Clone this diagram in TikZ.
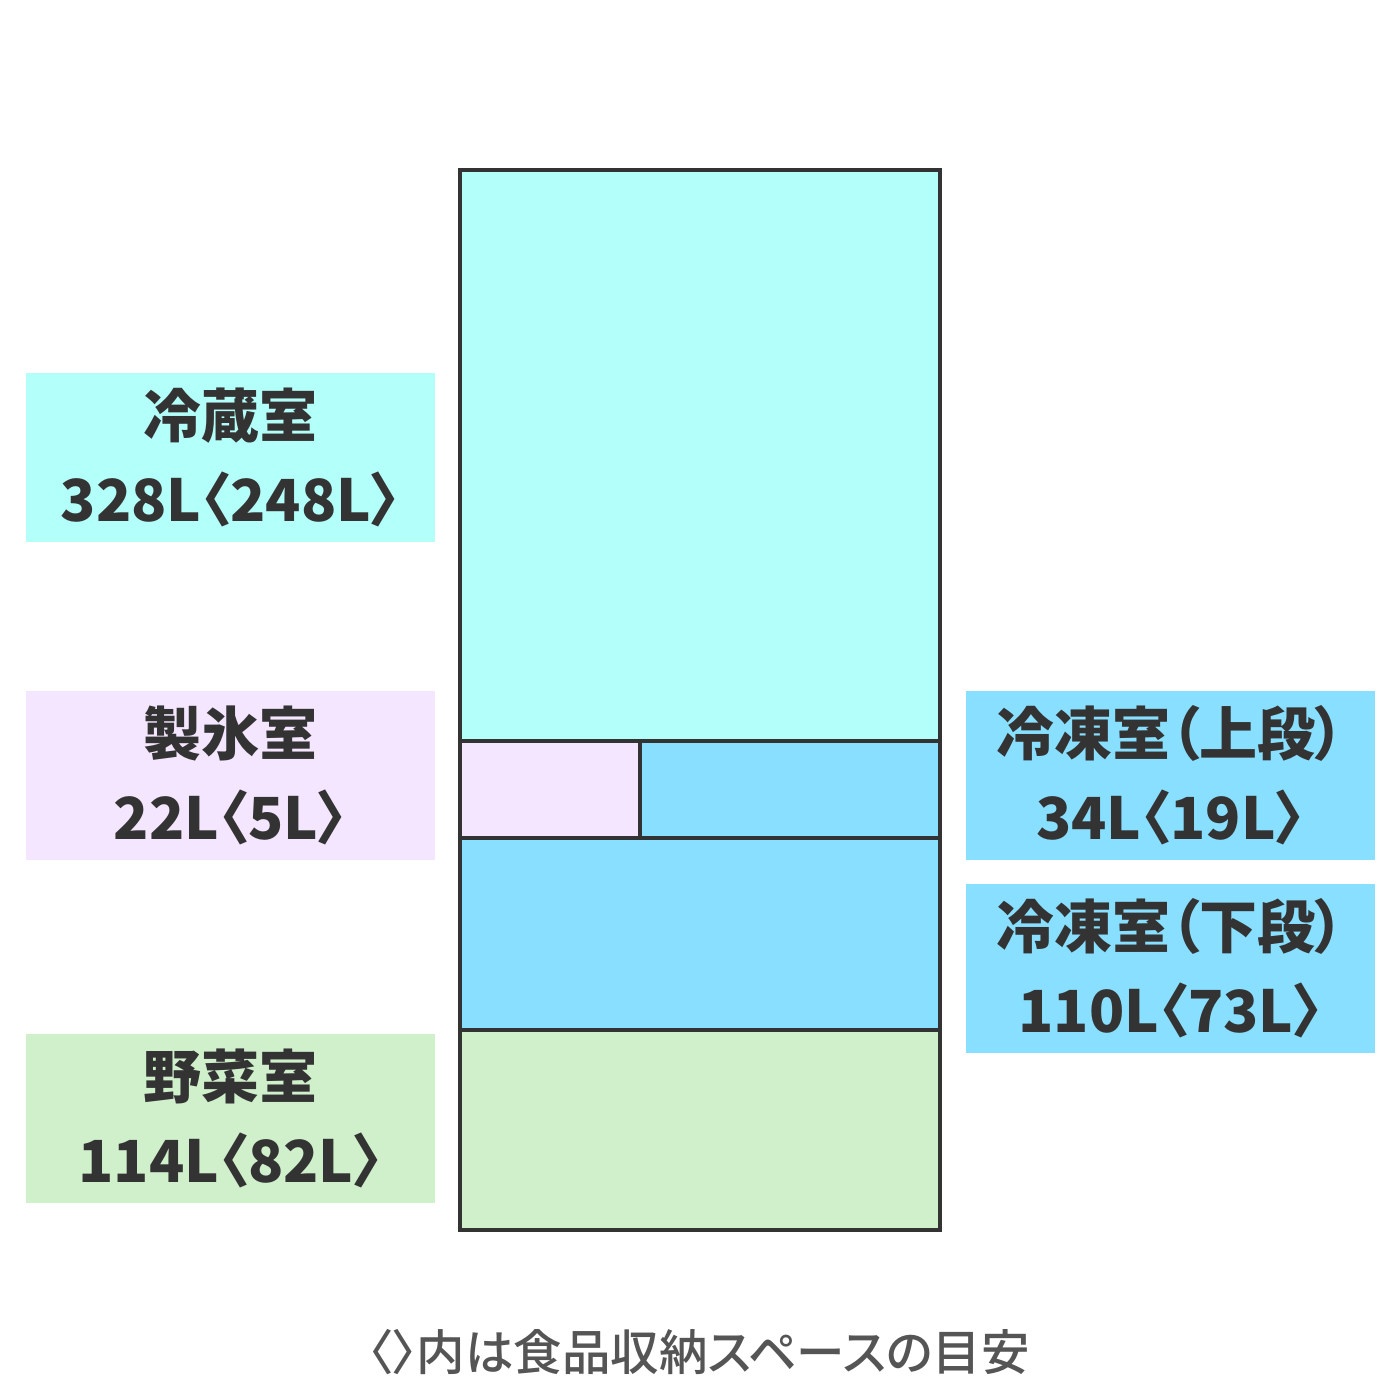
\documentclass[tikz,border=0pt]{standalone}
\usepackage{fontspec}
\setmainfont{Noto Sans CJK JP}[RawFeature=+palt]
\IfFontExistsTF{Noto Sans CJK JP Medium}
  {\newfontfamily\footfont{Noto Sans CJK JP Medium}[RawFeature=+palt]}
  {\newfontfamily\footfont{Noto Sans CJK JP}[RawFeature=+palt]}
\definecolor{txt}{HTML}{333333}
\definecolor{edge}{HTML}{333333}
\definecolor{cyanc}{HTML}{B3FFFA}
\definecolor{pinkc}{HTML}{F5E6FF}
\definecolor{bluec}{HTML}{88DFFF}
\definecolor{greenc}{HTML}{D0F0CC}
\definecolor{foot}{HTML}{555555}
\begin{document}
\begin{tikzpicture}[x=1pt,y=-1pt,
  lab/.style={rectangle, inner sep=0pt, minimum width=409pt, minimum height=169pt,
    align=center, text=txt, font=\fontsize{58}{84}\selectfont\bfseries},
  comp/.style={rectangle, draw=edge, line width=4.5pt, inner sep=0pt, outer sep=0pt, anchor=north west}]
\useasboundingbox (0,0) rectangle (1400,1400);
\fill[white] (0,0) rectangle (1400,1400);
% compartments
\node[comp, fill=cyanc, minimum width=480pt, minimum height=571pt] (reizo) at (460,170) {};
\node[comp, fill=pinkc, minimum width=180pt, minimum height=97pt] (seihyo) at (460,741) {};
\node[comp, fill=bluec, minimum width=300pt, minimum height=97pt] (tojo) at (640,741) {};
\node[comp, fill=bluec, minimum width=480pt, minimum height=192pt] (toka) at (460,838) {};
\node[comp, fill=greenc, minimum width=480pt, minimum height=200pt] (yasai) at (460,1030) {};
% labels
\node[lab, fill=cyanc] (l1) at (230.5,457.5) {冷蔵室\\328L〈248L〉};
\node[lab, fill=pinkc] (l2) at (230.5,775.5) {製氷室\\22L〈5L〉};
\node[lab, fill=greenc] (l3) at (230.5,1118) {野菜室\\114L〈82L〉};
\node[lab, fill=bluec] (l4) at (1170.5,775.5) {冷凍室（上段）\\34L〈19L〉};
\node[lab, fill=bluec] (l5) at (1170.5,968.5) {冷凍室（下段）\\110L〈73L〉};
% footer
\node[text=foot, font=\footfont\fontsize{48.5}{52}\selectfont, inner sep=0pt] (note) at (699,1352) {〈〉内は食品収納スペースの目安};
\end{tikzpicture}
\end{document}
